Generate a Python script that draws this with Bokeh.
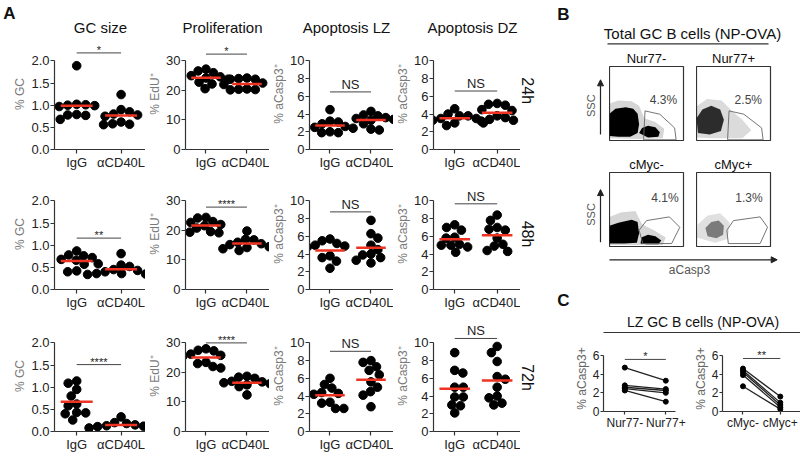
import math
import numpy as np
from bokeh.plotting import figure
from bokeh.layouts import row, column
from bokeh.models import Range1d, FixedTicker, NumeralTickFormatter, Arrow, NormalHead
from bokeh.embed import file_html
from bokeh.resources import INLINE
from bokeh.core.properties import value

FONT = "Liberation Sans"

# ---------------- Panel A data ----------------
groups = ["IgG", "αCD40L"]
timepoints = ["24h", "48h", "72h"]
readouts = ["GC size", "Proliferation", "Apoptosis LZ", "Apoptosis DZ"]
readout_ylabels = ["% GC", "% EdU⁺", "% aCasp3⁺", "% aCasp3⁺"]
readout_ymax = [2.0, 30, 10, 10]
readout_yticks = [[0, 0.5, 1.0, 1.5, 2.0], [0, 10, 20, 30], [0, 2, 4, 6, 8, 10], [0, 2, 4, 6, 8, 10]]

gc_24h_igg = [1.89, 1.02, 1.01, 1.00, 0.99, 0.97, 0.79, 0.78, 0.77, 0.68]
gc_24h_acd40l = [1.24, 0.90, 0.85, 0.80, 0.78, 0.75, 0.62, 0.58, 0.57, 0.56]
prolif_24h_igg = [27.2, 26.6, 26.0, 25.0, 24.6, 24.2, 23.8, 22.8, 22.2, 20.6]
prolif_24h_acd40l = [24.2, 24.0, 23.8, 23.8, 22.5, 22.0, 20.5, 20.3, 20.2, 20.4]
lz_24h_igg = [4.5, 3.2, 3.1, 2.9, 2.6, 2.5, 2.4, 2.0, 1.9, 1.9]
lz_24h_acd40l = [4.3, 3.9, 3.8, 3.6, 3.5, 3.4, 3.3, 2.9, 2.3, 2.2]
dz_24h_igg = [4.6, 4.0, 3.8, 3.8, 3.5, 3.5, 3.3, 3.0, 3.0, 2.7]
dz_24h_acd40l = [5.2, 5.1, 5.0, 4.5, 4.4, 3.8, 3.6, 3.4, 3.3, 3.2]

gc_48h_igg = [0.87, 0.78, 0.76, 0.72, 0.68, 0.66, 0.58, 0.57, 0.42, 0.40]
gc_48h_acd40l = [0.81, 0.55, 0.52, 0.45, 0.43, 0.40, 0.36, 0.35, 0.34, 0.36]
prolif_48h_igg = [24.4, 24.2, 23.0, 22.7, 22.0, 21.6, 20.8, 19.6, 19.4, 19.2]
prolif_48h_acd40l = [19.8, 17.0, 16.8, 16.0, 15.5, 15.2, 14.5, 14.2, 13.8, 13.2]
lz_48h_igg = [5.7, 5.5, 5.2, 5.0, 4.9, 4.8, 3.8, 3.6, 3.2, 2.4]
lz_48h_acd40l = [7.8, 6.3, 5.8, 5.0, 4.5, 4.0, 3.9, 3.6, 3.3, 3.0]
dz_48h_igg = [7.3, 7.0, 6.7, 5.9, 5.8, 5.1, 5.0, 5.0, 4.8, 4.2]
dz_48h_acd40l = [8.4, 7.8, 7.0, 6.8, 6.7, 5.8, 5.1, 4.9, 4.4, 4.3]

gc_72h_igg = [1.14, 1.09, 0.95, 0.80, 0.62, 0.58, 0.43, 0.42, 0.40, 0.26]
gc_72h_acd40l = [0.33, 0.20, 0.18, 0.15, 0.13, 0.12, 0.11, 0.10, 0.08, 0.07]
prolif_72h_igg = [28.0, 27.5, 27.3, 26.2, 25.8, 25.5, 23.4, 23.0, 22.0, 21.5]
prolif_72h_acd40l = [18.7, 18.4, 18.0, 17.0, 16.8, 16.5, 16.2, 15.8, 15.2, 12.4]
lz_72h_igg = [6.0, 5.3, 4.9, 4.4, 4.3, 4.2, 3.3, 3.2, 2.6, 2.6]
lz_72h_acd40l = [8.0, 7.8, 7.3, 6.9, 6.4, 5.6, 5.0, 4.5, 4.1, 2.8]
dz_72h_igg = [8.9, 6.9, 6.6, 5.0, 5.0, 3.9, 3.9, 3.0, 2.9, 2.1]
dz_72h_acd40l = [9.6, 8.9, 7.9, 6.2, 5.9, 5.0, 4.0, 3.8, 3.2, 3.0]

sig_labels = [["*", "*", "NS", "NS"],
              ["**", "****", "NS", "NS"],
              ["****", "****", "NS", "NS"]]
sig_heights = [[2.18, 32.3, 6.5, 6.6],
               [1.16, 27.9, 8.76, 9.67],
               [1.51, 30.0, 9.05, 10.5]]

# ---------------- Panel B data (gates / populations, fraction of plot) ----------------
flow_titles = [["Nur77-", "Nur77+"], ["cMyc-", "cMyc+"]]
flow_pct = [["4.3%", "2.5%"], ["4.1%", "1.3%"]]
gate_nur_x = [0.46, 0.48, 0.68, 0.88, 0.90]
gate_nur_y = [0.01, 0.40, 0.355, 0.17, 0.01]
gate_nur2_x = [0.42, 0.44, 0.64, 0.88, 0.90]
gate_nur2_y = [0.01, 0.40, 0.355, 0.17, 0.01]
gate_myc_x = [0.45, 0.40, 0.50, 0.81, 0.95, 0.84]
gate_myc_y = [0.04, 0.22, 0.35, 0.40, 0.26, 0.04]
gate_myc2_x = [0.43, 0.41, 0.50, 0.86, 0.96, 0.86]
gate_myc2_y = [0.04, 0.22, 0.35, 0.40, 0.26, 0.04]

# population outlines: (x, y, opacity)
pop_nur_neg = [
    ([0.0, 0.0, 0.12, 0.30, 0.40, 0.47, 0.62, 0.74, 0.72, 0.40],
     [0.03, 0.50, 0.54, 0.53, 0.47, 0.30, 0.25, 0.16, 0.03, 0.02], 0.16),
    ([0.0, 0.0, 0.08, 0.22, 0.32, 0.38, 0.40, 0.38, 0.28, 0.12],
     [0.06, 0.36, 0.43, 0.45, 0.43, 0.36, 0.22, 0.10, 0.05, 0.05], 1.0),
    ([0.40, 0.44, 0.52, 0.62, 0.68, 0.66, 0.52],
     [0.10, 0.17, 0.20, 0.18, 0.11, 0.05, 0.04], 1.0),
]
pop_nur_pos = [
    ([0.0, 0.0, 0.14, 0.34, 0.48, 0.62, 0.74, 0.62, 0.20],
     [0.04, 0.46, 0.56, 0.54, 0.40, 0.28, 0.14, 0.03, 0.03], 0.14),
    ([0.02, 0.0, 0.08, 0.20, 0.32, 0.37, 0.33, 0.18],
     [0.10, 0.30, 0.42, 0.47, 0.42, 0.28, 0.13, 0.08], 0.80),
]
pop_myc_neg = [
    ([0.0, 0.0, 0.15, 0.35, 0.44, 0.60, 0.76, 0.72, 0.30],
     [0.02, 0.40, 0.46, 0.48, 0.30, 0.22, 0.12, 0.02, 0.02], 0.16),
    ([0.0, 0.0, 0.12, 0.30, 0.38, 0.40, 0.37, 0.20],
     [0.04, 0.28, 0.32, 0.36, 0.33, 0.18, 0.05, 0.04], 1.0),
    ([0.42, 0.43, 0.52, 0.62, 0.70, 0.66, 0.50],
     [0.04, 0.12, 0.16, 0.14, 0.08, 0.03, 0.03], 1.0),
]
pop_myc_pos = [
    ([0.0, 0.02, 0.15, 0.32, 0.45, 0.42, 0.25],
     [0.12, 0.30, 0.42, 0.45, 0.32, 0.10, 0.05], 0.12),
    ([0.15, 0.12, 0.20, 0.30, 0.37, 0.36, 0.27],
     [0.14, 0.25, 0.33, 0.35, 0.28, 0.16, 0.11], 0.45),
]

# ---------------- Panel C data ----------------
c_cats_nur = ["Nur77-", "Nur77+"]
c_nur_neg = [4.7, 2.8, 2.6, 2.45, 2.25]
c_nur_pos = [3.3, 2.4, 2.25, 2.0, 1.05]
c_cats_myc = ["cMyc-", "cMyc+"]
c_myc_neg = [4.6, 4.4, 4.2, 3.9, 2.7]
c_myc_pos = [1.6, 0.95, 0.7, 0.45, 0.25]
c_sig = [("*", 5.58), ("**", 5.68)]

panel_data = [
    [(gc_24h_igg, gc_24h_acd40l), (prolif_24h_igg, prolif_24h_acd40l), (lz_24h_igg, lz_24h_acd40l), (dz_24h_igg, dz_24h_acd40l)],
    [(gc_48h_igg, gc_48h_acd40l), (prolif_48h_igg, prolif_48h_acd40l), (lz_48h_igg, lz_48h_acd40l), (dz_48h_igg, dz_48h_acd40l)],
    [(gc_72h_igg, gc_72h_acd40l), (prolif_72h_igg, prolif_72h_acd40l), (lz_72h_igg, lz_72h_acd40l), (dz_72h_igg, dz_72h_acd40l)],
]

# ---------------- layout constants ----------------
COL_L = [54, 33, 33, 36]
COL_R = [0, 0, 0, 0]
ROW_T = [0, 6, 8]
ROW_B = [20, 20, 20]
FW, FH = 91, 114
AXIS_PX = 91
XR = (-0.5, 1.55)
DOT = 8.6
RED = "#ee3322"
AX = "#333333"


def swarm_offsets(vals, ppu_y, diam):
    vals = np.asarray(vals, float)
    order = np.argsort(-vals, kind="stable")
    px, py = [], []
    offs = np.zeros(len(vals))
    for n, i in enumerate(order):
        y = vals[i] * ppu_y
        sgn = 1 if n % 2 == 0 else -1
        steps = [0.0]
        for k in range(1, 200):
            steps += [sgn * k * 0.5, -sgn * k * 0.5]
        for s in steps:
            if all((s - a) ** 2 + (y - b) ** 2 >= diam * diam for a, b in zip(px, py)):
                break
        px.append(s)
        py.append(y)
        offs[i] = s
    return offs


def style_axes(p, size="13px", label_size="12px"):
    p.outline_line_color = None
    for ax in list(p.xaxis) + list(p.yaxis):
        ax.axis_line_color = AX
        ax.axis_line_width = 1.2
        ax.major_tick_line_color = AX
        ax.major_tick_line_width = 1.2
        ax.major_tick_in = 0
        ax.major_tick_out = 4
        ax.minor_tick_line_color = None
        ax.major_label_text_font = FONT
        ax.major_label_text_font_size = size
        ax.major_label_text_color = "#222222"
        ax.major_label_standoff = 1
        ax.axis_label_text_font = FONT
        ax.axis_label_text_font_style = "normal"
        ax.axis_label_text_font_size = label_size
        ax.axis_label_text_color = "#7a7a7a"
        ax.axis_label_standoff = 1
    p.xaxis.major_label_standoff = 1


def sig_text(p, x, h, lab):
    if lab == "NS":
        p.text(x=[x], y=[h], text=[lab], text_font=value(FONT), text_font_size="13px",
               text_align="center", text_baseline="bottom", y_offset=0, text_color="#222222")
    else:
        p.text(x=[x], y=[h], text=[lab], text_font=value(FONT), text_font_size="11px",
               text_align="center", text_baseline="middle", y_offset=-3, text_color="#222222")


def dot_panel(r, c):
    ymax = readout_ymax[c]
    yend = ymax * FH / AXIS_PX
    p = figure(width=COL_L[c] + FW + COL_R[c], height=ROW_T[r] + FH + ROW_B[r],
               x_range=Range1d(*XR), y_range=Range1d(0, yend),
               output_backend="svg", toolbar_location=None, title=None,
               min_border_left=COL_L[c], min_border_right=COL_R[c],
               min_border_top=ROW_T[r], min_border_bottom=ROW_B[r])
    p.xgrid.visible = False
    p.ygrid.visible = False
    style_axes(p)
    p.yaxis.bounds = (0, ymax)
    p.yaxis.ticker = FixedTicker(ticks=readout_yticks[c])
    if c == 0:
        p.yaxis.formatter = NumeralTickFormatter(format="0.0")
    p.yaxis.axis_label = readout_ylabels[c]
    p.xaxis.ticker = FixedTicker(ticks=[0, 1])
    p.xaxis.major_label_overrides = {0: groups[0], 1: groups[1]}

    ppu_y = FH / yend
    ppu_x = FW / (XR[1] - XR[0])
    for g, vals in enumerate(panel_data[r][c]):
        offs = swarm_offsets(vals, ppu_y, DOT) / ppu_x
        p.scatter(x=list(g + offs), y=vals, size=DOT, fill_color="black", line_color="black")
        m = float(np.mean(vals))
        p.segment(x0=[g - 0.36], y0=[m], x1=[g + 0.36], y1=[m], line_color=RED, line_width=2.5)

    h = sig_heights[r][c]
    p.segment(x0=[0], y0=[h], x1=[1], y1=[h], line_color="#444444", line_width=1)
    sig_text(p, 0.5, h, sig_labels[r][c])
    return p


def canvas(w, h):
    p = figure(width=w, height=h, x_range=Range1d(0, w), y_range=Range1d(h, 0),
               x_axis_type=None, y_axis_type=None, output_backend="svg",
               toolbar_location=None, min_border=0, title=None)
    p.outline_line_color = None
    return p


def ctext(p, x, y, t, size="13px", color="#111111", bold=False, angle=0.0, align="center"):
    p.text(x=[x], y=[y], text=[t], text_font=value(FONT), text_font_size=size,
           text_color=color, text_align=align, text_baseline="middle", angle=angle,
           text_font_style=("bold" if bold else "normal"))


def flow_panel(title, pops, gx, gy, pct, pct_xy, L, R, T, B):
    p = figure(width=L + 74 + R, height=T + 74 + B, x_range=Range1d(0, 1), y_range=Range1d(0, 1),
               x_axis_type=None, y_axis_type=None, output_backend="svg", toolbar_location=None,
               title=title, min_border_left=L, min_border_right=R, min_border_top=T, min_border_bottom=B)
    p.outline_line_color = "#333333"
    p.outline_line_width = 1.2
    p.title.align = "center"
    p.title.text_font = FONT
    p.title.text_font_size = "13px"
    p.title.text_font_style = "normal"
    p.title.text_color = "#111111"
    p.title.standoff = 1
    for xs, ys, a in pops:
        p.patch(xs, ys, fill_color="black", fill_alpha=a, line_color=None)
    p.patch(gx, gy, fill_color=None, line_color="#666666", line_width=0.9)
    p.text(x=[pct_xy[0]], y=[pct_xy[1]], text=[pct], text_font=value(FONT), text_font_size="12px",
           text_color="#444444", text_align="center", text_baseline="middle")
    return p


def ssc_canvas(h, y_top, y_bot, y_lab):
    p = canvas(69, h)
    p.add_layout(Arrow(end=NormalHead(size=6, fill_color="#222222", line_color="#222222"),
                       x_start=60, y_start=y_bot, x_end=60, y_end=y_top,
                       line_color="#222222", line_width=1.2))
    ctext(p, 50, y_lab, "SSC", size="11px", color="#555555", angle=math.pi / 2)
    return p


def pair_panel(neg, pos, cats, L, W, R, xr, sig):
    p = figure(width=L + W + R, height=7 + 66 + 22, x_range=Range1d(*xr), y_range=Range1d(0, 7.07),
               output_backend="svg", toolbar_location=None, title=None,
               min_border_left=L, min_border_right=R, min_border_top=7, min_border_bottom=22)
    p.xgrid.visible = False
    p.ygrid.visible = False
    style_axes(p, size="12px", label_size="12px")
    p.yaxis.major_tick_out = 3
    p.xaxis.major_tick_out = 3
    p.yaxis.bounds = (0, 6)
    p.yaxis.ticker = FixedTicker(ticks=[0, 2, 4, 6])
    p.yaxis.axis_label = "% aCasp3+"
    p.yaxis.axis_label_text_color = "#666666"
    p.xaxis.ticker = FixedTicker(ticks=[0, 1])
    p.xaxis.major_label_overrides = {0: cats[0], 1: cats[1]}
    n = len(neg)
    p.segment(x0=[0] * n, y0=neg, x1=[1] * n, y1=pos, line_color="#222222", line_width=1.3)
    p.scatter(x=[0] * n, y=neg, size=5, fill_color="black", line_color="black")
    p.scatter(x=[1] * n, y=pos, size=5, fill_color="black", line_color="black")
    lab, h = sig
    p.segment(x0=[0], y0=[h], x1=[1], y1=[h], line_color="#444444", line_width=1)
    sig_text(p, 0.5, h, lab)
    return p


# ---------------- Panel A ----------------
hA = canvas(540, 38)
ctext(hA, 9, 13, "A", size="17px", bold=True)
for t, xc in zip(readouts, [100, 222, 346, 472]):
    ctext(hA, xc, 27, t, size="15px")

row_heights = [ROW_T[r] + FH + ROW_B[r] for r in range(3)]
time_y = [63, 70, 73]
rowsA = [hA]
for r in range(3):
    tc = canvas(20, row_heights[r])
    ctext(tc, 7, time_y[r], timepoints[r], size="16px", angle=-math.pi / 2)
    rowsA.append(row(*[dot_panel(r, c) for c in range(4)], tc, spacing=0))
colA = column(*rowsA, spacing=0)

# ---------------- Panel B ----------------
hB = canvas(260, 48)
ctext(hB, 23, 14, "B", size="17px", bold=True)
ctext(hB, 152, 32.5, "Total GC B cells (NP-OVA)", size="15px")
hB.segment(x0=[67], y0=[43.3], x1=[228], y1=[43.3], line_color="#333333", line_width=1.2)

f1 = flow_panel(flow_titles[0][0], pop_nur_neg, gate_nur_x, gate_nur_y, flow_pct[0][0], (0.73, 0.55), 0, 13, 18, 8)
f2 = flow_panel(flow_titles[0][1], pop_nur_pos, gate_nur2_x, gate_nur2_y, flow_pct[0][1], (0.70, 0.55), 0, 30, 18, 8)
s1 = ssc_canvas(100, 18, 92, 53)
flow_row1 = row(s1, f1, f2, spacing=0)

f3 = flow_panel(flow_titles[1][0], pop_myc_neg, gate_myc_x, gate_myc_y, flow_pct[1][0], (0.75, 0.66), 0, 13, 24, 6)
f4 = flow_panel(flow_titles[1][1], pop_myc_pos, gate_myc2_x, gate_myc2_y, flow_pct[1][1], (0.71, 0.66), 0, 30, 24, 6)
s2 = ssc_canvas(104, 24, 98, 59)
flow_row2 = row(s2, f3, f4, spacing=0)

mid = canvas(260, 86)
mid.add_layout(Arrow(end=NormalHead(size=6, fill_color="#222222", line_color="#222222"),
                     x_start=69, y_start=7.3, x_end=236.7, y_end=7.3,
                     line_color="#222222", line_width=1.2))
ctext(mid, 149, 17.5, "aCasp3", size="12px", color="#555555")
ctext(mid, 23, 48, "C", size="17px", bold=True)
ctext(mid, 162.5, 69.7, "LZ GC B cells (NP-OVA)", size="14px")
mid.segment(x0=[63], y0=[80], x1=[260], y1=[80], line_color="#333333", line_width=1.2)

# ---------------- Panel C ----------------
c1 = pair_panel(c_nur_neg, c_nur_pos, c_cats_nur, 63, 72, 15, (-0.52, 1.236), c_sig[0])
c2 = pair_panel(c_myc_neg, c_myc_pos, c_cats_myc, 25, 85, 0, (-0.548, 1.54), c_sig[1])
crow = row(c1, c2, spacing=0)

colBC = column(hB, flow_row1, flow_row2, mid, crow, spacing=0)
root = row(colA, colBC, spacing=0)

open("out.html", "w").write(file_html(root, INLINE))
